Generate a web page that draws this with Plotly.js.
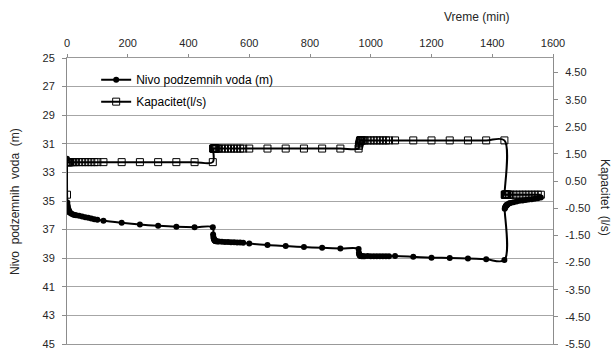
<!DOCTYPE html>
<html>
<head>
<meta charset="utf-8">
<script src="https://cdn.plot.ly/plotly-3.0.1.min.js"></script>
<style>
html,body{margin:0;padding:0;background:#fff;}
#chart{width:614px;height:349px;}
</style>
</head>
<body>
<div id="chart"></div>
<script>
// Time (min)
const time = [
  0,1,2,3,4,5,6,7,8,9,10,15,20,25,30,40,50,60,70,80,90,100,120,180,240,300,360,420,480,
  481,482,483,484,485,486,487,488,489,490,495,500,510,520,530,540,550,560,570,580,600,660,720,780,840,900,960,
  961,962,963,964,965,966,967,968,969,970,975,980,990,1000,1010,1020,1030,1040,1050,1060,1080,1140,1200,1260,1320,1380,1440,
  1441,1442,1443,1444,1445,1446,1447,1448,1449,1450,1455,1460,1470,1480,1490,1500,1510,1520,1530,1540,1550,1560
];
// Nivo podzemnih voda (m)
const nivo = [
  32.05,35.1,35.3,35.45,35.55,35.62,35.68,35.73,35.77,35.8,35.83,35.9,35.95,35.98,36.0,36.04,36.08,36.13,36.18,36.23,36.28,36.31,36.38,36.52,36.64,36.73,36.8,36.84,36.84,
  37.35,37.52,37.62,37.68,37.72,37.75,37.77,37.79,37.8,37.81,37.83,37.84,37.85,37.86,37.87,37.88,37.89,37.9,37.91,37.92,37.98,38.08,38.15,38.22,38.27,38.32,38.35,
  38.62,38.72,38.77,38.8,38.82,38.83,38.84,38.85,38.85,38.86,38.86,38.86,38.85,38.86,38.86,38.86,38.86,38.86,38.86,38.86,38.85,38.9,38.96,38.98,39.02,39.08,39.13,
  35.55,35.47,35.42,35.38,35.35,35.32,35.3,35.28,35.26,35.24,35.18,35.14,35.08,35.03,34.99,34.96,34.93,34.9,34.87,34.84,34.8,34.76
];
// Kapacitet (l/s)
const kapacitet = [
  0,1.2,1.2,1.2,1.2,1.2,1.2,1.2,1.2,1.2,1.2,1.2,1.2,1.2,1.2,1.2,1.2,1.2,1.2,1.2,1.2,1.2,1.2,1.2,1.2,1.2,1.2,1.2,1.2,
  1.7,1.7,1.7,1.7,1.7,1.7,1.7,1.7,1.7,1.7,1.7,1.7,1.7,1.7,1.7,1.7,1.7,1.7,1.7,1.7,1.7,1.7,1.7,1.7,1.7,1.7,1.7,
  1.8,1.85,1.9,1.95,2.0,2.0,2.0,2.0,2.0,2.0,2.0,2.0,2.0,2.0,2.0,2.0,2.0,2.0,2.0,2.0,2.0,2.0,2.0,2.0,2.0,2.0,2.0,
  0,0,0,0,0,0,0,0,0,0,0,0,0,0,0,0,0,0,0,0,0,0
];
const xTicks = [0,200,400,600,800,1000,1200,1400,1600];
const leftTicks = [25,27,29,31,33,35,37,39,41,43,45];
const rightTicks = [4.5,3.5,2.5,1.5,0.5,-0.5,-1.5,-2.5,-3.5,-4.5,-5.5];

const FONT = 'Liberation Sans, Arial, sans-serif';
const traces = [
  {
    x: time, y: nivo, name: 'Nivo podzemnih voda (m)', type: 'scatter', mode: 'lines+markers',
    yaxis: 'y', legendgroup: 'a', line: {color: '#000', width: 2, shape: 'spline', smoothing: 1},
    marker: {symbol: 'circle', size: 6, color: '#000'}
  },
  {
    x: time, y: kapacitet, name: 'Kapacitet(l/s)', type: 'scatter', mode: 'lines+markers',
    yaxis: 'y2', legendgroup: 'b', line: {color: '#000', width: 2, shape: 'spline', smoothing: 1},
    marker: {symbol: 'square-open', size: 7, color: '#000', line: {width: 1, color: '#000'}}
  }
];
const layout = {
  width: 614, height: 349,
  margin: {l: 67, r: 61, t: 58, b: 5},
  paper_bgcolor: '#fff', plot_bgcolor: '#fff',
  font: {family: FONT, size: 11, color: '#262626'},
  showlegend: true,
  legend: {x: 0.06, y: 0.975, xanchor: 'left', yanchor: 'top', bgcolor: 'rgba(0,0,0,0)',
           traceorder: 'grouped', tracegroupgap: 3,
           font: {family: FONT, size: 12, color: '#000'}},
  xaxis: {
    side: 'top', range: [0, 1600], tickvals: xTicks, ticktext: xTicks.map(String),
    showgrid: false, zeroline: false, showline: true, mirror: true, linecolor: '#999999', linewidth: 1,
    ticks: 'outside', ticklen: 3, tickcolor: '#8c8c8c', ticklabelstandoff: 3,
    tickfont: {family: FONT, size: 11, color: '#262626'}, fixedrange: true
  },
  yaxis: {
    range: [45, 25], tickvals: leftTicks, ticktext: leftTicks.map(String),
    showgrid: true, gridcolor: '#a6a6a6', gridwidth: 1, zeroline: false,
    showline: true, linecolor: '#8c8c8c', linewidth: 1,
    ticks: 'outside', ticklen: 4, tickcolor: '#8c8c8c', ticklabelstandoff: 5,
    ticklabeloverflow: 'allow',
    tickfont: {family: FONT, size: 11, color: '#262626'}, fixedrange: true
  },
  yaxis2: {
    overlaying: 'y', side: 'right', range: [-5.5, 5.036], tickvals: rightTicks,
    ticktext: rightTicks.map(v => v.toFixed(2)),
    showgrid: false, zeroline: false, showline: true, linecolor: '#8c8c8c', linewidth: 1,
    ticks: 'outside', ticklen: 4, tickcolor: '#8c8c8c', ticklabelstandoff: 5,
    ticklabeloverflow: 'allow',
    tickfont: {family: FONT, size: 11, color: '#262626'}, fixedrange: true
  },
  annotations: [
    {text: 'Vreme (min)', xref: 'paper', yref: 'paper', x: 0.8436, y: 1.143,
     xanchor: 'center', yanchor: 'middle', showarrow: false, font: {family: FONT, size: 12, color: '#262626'}},
    {text: 'Nivo  podzemnih  voda  (m)', xref: 'paper', yref: 'paper', x: -0.107, y: 0.5,
     xanchor: 'center', yanchor: 'middle', textangle: -90, showarrow: false, font: {family: FONT, size: 12, color: '#262626'}},
    {text: 'Kapacitet  (l/s)', xref: 'paper', yref: 'paper', x: 1.107, y: 0.514,
     xanchor: 'center', yanchor: 'middle', textangle: 90, showarrow: false, font: {family: FONT, size: 12, color: '#262626'}}
  ]
};
Plotly.newPlot('chart', traces, layout, {displayModeBar: false, staticPlot: true});
</script>
</body>
</html>
